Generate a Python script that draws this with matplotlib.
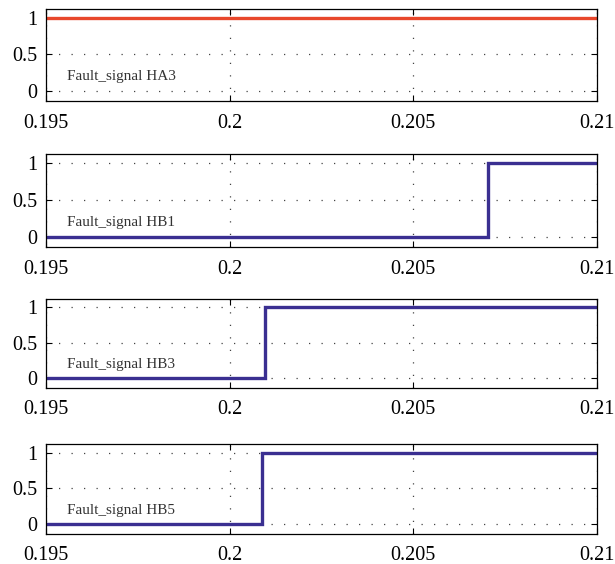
import numpy as np
import matplotlib.pyplot as plt

t_start = 0.195
t_end = 0.21
signal_names = ['Fault_signal HA3', 'Fault_signal HB1', 'Fault_signal HB3', 'Fault_signal HB5']
# switching instant for each signal (None = already on for the whole window)
step_times = [None, 0.20703, 0.20096, 0.20087]
line_colors = ['#e8472b', '#3a2f91', '#3a2f91', '#3a2f91']
xticks = [0.195, 0.2, 0.205, 0.21]
xtick_labels = ['0.195', '0.2', '0.205', '0.21']
yticks = [0, 0.5, 1]
ytick_labels = ['0', '0.5', '1']

plt.rcParams['font.family'] = ['Liberation Serif', 'DejaVu Serif']

fig = plt.figure(figsize=(6.15, 5.64), dpi=100)
# axes boxes in pixels (left, top, right, bottom)
boxes = [(46, 9, 597, 101), (46, 154, 597, 247), (46, 299, 597, 388), (46, 444, 597, 534)]
W, H = 615, 564

for i, name in enumerate(signal_names):
    l, tp, r, b = boxes[i]
    ax = fig.add_axes([l / W, 1 - b / H, (r - l) / W, (b - tp) / H])
    st = step_times[i]
    if st is None:
        xs = [t_start, t_end]
        ys = [1, 1]
    else:
        xs = [t_start, st, st, t_end]
        ys = [0, 0, 1, 1]
    ax.plot(xs, ys, color=line_colors[i], lw=2.4, solid_joinstyle='miter')
    ax.set_xlim(t_start, t_end)
    ax.set_ylim(-0.14, 1.12)
    ax.set_xticks(xticks)
    ax.set_xticklabels(xtick_labels)
    ax.set_yticks(yticks)
    ax.set_yticklabels(ytick_labels)
    ax.tick_params(direction='in', top=True, right=True, length=4, width=0.8,
                   labelsize=14.5)
    ax.tick_params(axis='x', pad=9)
    ax.tick_params(axis='y', pad=6)
    ax.grid(True, linestyle=(0, (1, 9)), color='#444444', lw=0.9)
    for s in ax.spines.values():
        s.set_linewidth(0.9)
    ax.text(0.038, 0.265, name, transform=ax.transAxes, fontsize=11,
            color='#333333', va='center')

fig.savefig('out.png', dpi=100)
